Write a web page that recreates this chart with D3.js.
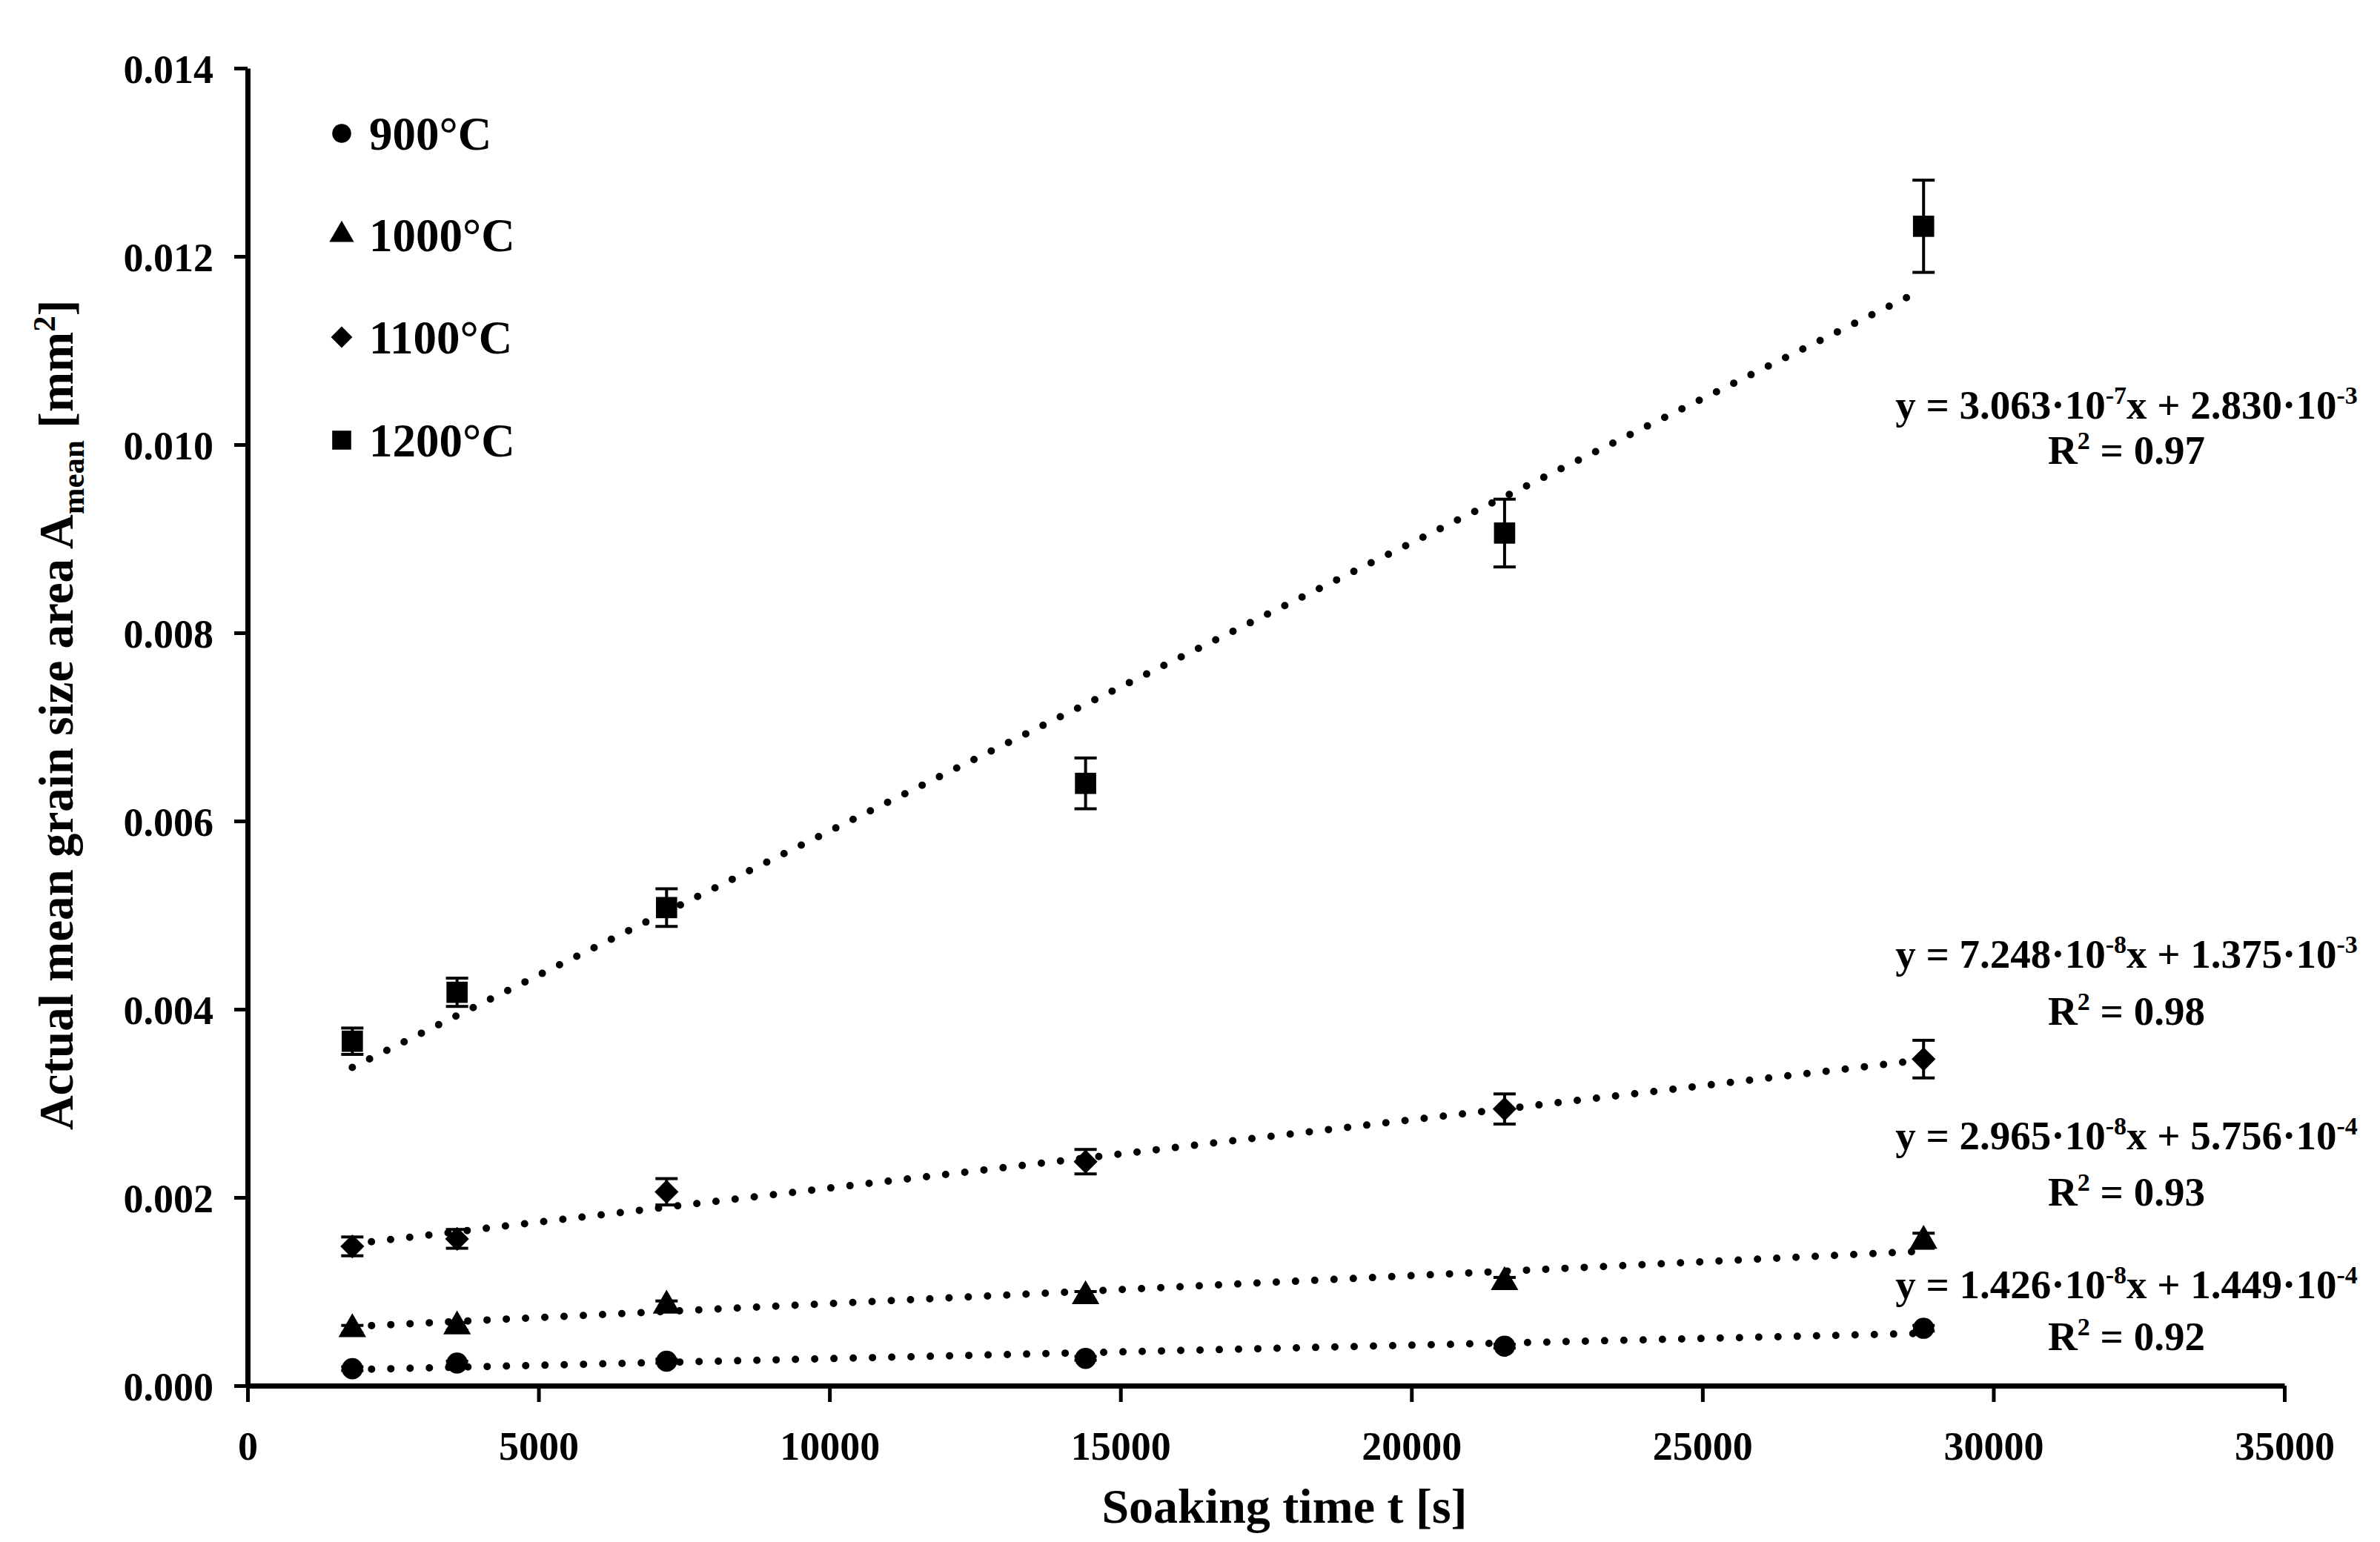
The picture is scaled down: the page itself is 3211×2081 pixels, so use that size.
<!DOCTYPE html>
<html><head><meta charset="utf-8">
<script src="https://cdnjs.cloudflare.com/ajax/libs/d3/7.8.5/d3.min.js"></script>
<style>body{margin:0;background:#fff}</style>
</head><body>
<svg id="c" width="3211" height="2081"></svg>
<script>
// ---- data ----
const times = [1800, 3600, 7200, 14400, 21600, 28800];
const seriesNames = ["900°C", "1000°C", "1100°C", "1200°C"];
const mean900  = [0.00018, 0.00024, 0.00026, 0.00029, 0.00042, 0.00061];
const err900   = [0.00002, 0.00002, 0.00002, 0.00002, 0.00002, 0.00003];
const mean1000 = [0.00060, 0.00063, 0.00085, 0.00095, 0.00110, 0.00154];
const err1000  = [0.00004, 0.00004, 0.00005, 0.00005, 0.00005, 0.00008];
const mean1100 = [0.00148, 0.00156, 0.00206, 0.00238, 0.00294, 0.00347];
const err1100  = [0.00010, 0.00010, 0.00014, 0.00013, 0.00016, 0.00020];
const mean1200 = [0.00366, 0.00418, 0.00508, 0.00640, 0.00906, 0.01232];
const err1200  = [0.00014, 0.00015, 0.00020, 0.00027, 0.00036, 0.00049];
const slopes     = [1.426e-8, 2.965e-8, 7.248e-8, 3.063e-7];
const intercepts = [1.449e-4, 5.756e-4, 1.375e-3, 2.830e-3];
const eqSlopeText = ["1.426", "2.965", "7.248", "3.063"];
const eqSlopeExp  = ["-8", "-8", "-8", "-7"];
const eqIntText   = ["1.449", "5.756", "1.375", "2.830"];
const eqIntExp    = ["-4", "-4", "-3", "-3"];
const r2Text      = ["0.92", "0.93", "0.98", "0.97"];
const xTicks = [0, 5000, 10000, 15000, 20000, 25000, 30000, 35000];
const yTicks = [0.000, 0.002, 0.004, 0.006, 0.008, 0.010, 0.012, 0.014];

const means = [mean900, mean1000, mean1100, mean1200];
const errs = [err900, err1000, err1100, err1200];

// ---- layout ----
const W = 3211, H = 2081;
const m = {left: 334, top: 92, right: 129, bottom: 211};
const svg = d3.select("#c");
const FONT = "'Liberation Serif', 'Times New Roman', serif";
const x = d3.scaleLinear().domain([0, 35000]).range([m.left, W - m.right]);
const y = d3.scaleLinear().domain([0, 0.014]).range([H - m.bottom, m.top]);

// axes
const xAxis = svg.append("g").attr("transform", `translate(0,${H - m.bottom})`)
  .call(d3.axisBottom(x).tickValues(xTicks).tickFormat(d3.format("d")).tickSizeInner(22).tickSizeOuter(0).tickPadding(40));
const yAxis = svg.append("g").attr("transform", `translate(${m.left},0)`)
  .call(d3.axisLeft(y).tickValues(yTicks).tickFormat(d3.format(".3f")).tickSizeInner(18).tickSizeOuter(0).tickPadding(28));
[xAxis, yAxis].forEach(g => {
  g.select(".domain").attr("stroke", "#000").attr("stroke-width", 7);
  g.selectAll(".tick line").attr("stroke", "#000").attr("stroke-width", 5);
  g.selectAll(".tick text").attr("font-family", FONT).attr("font-size", 54).attr("font-weight", "bold").attr("fill", "#000");
});
yAxis.selectAll(".tick text").attr("dy", "0.36em");

// symbols
const symTypes = [d3.symbolCircle, d3.symbolTriangle, d3.symbolSquare, d3.symbolSquare];
const symSizes = [640, 600, 520, 820];
const symRot = [0, 0, 45, 0];
function sym(i, scale) {
  return d3.symbol().type(symTypes[i]).size(symSizes[i] * (scale || 1))();
}

const plot = svg.append("g");

// trend lines (dotted)
seriesNames.forEach((name, i) => {
  const x0 = times[0], x1 = times[times.length - 1];
  plot.append("line")
    .attr("x1", x(x0)).attr("y1", y(slopes[i] * x0 + intercepts[i]))
    .attr("x2", x(x1)).attr("y2", y(slopes[i] * x1 + intercepts[i]))
    .attr("stroke", "#000").attr("stroke-width", 10)
    .attr("stroke-linecap", "round").attr("stroke-dasharray", "0 26");
});

// error bars and markers
seriesNames.forEach((name, i) => {
  const g = plot.append("g");
  times.forEach((t, j) => {
    const v = means[i][j], e = errs[i][j];
    const cx = x(t);
    g.append("line").attr("x1", cx).attr("x2", cx).attr("y1", y(v - e)).attr("y2", y(v + e))
      .attr("stroke", "#000").attr("stroke-width", 4);
    [v - e, v + e].forEach(val => {
      g.append("line").attr("x1", cx - 15).attr("x2", cx + 15).attr("y1", y(val)).attr("y2", y(val))
        .attr("stroke", "#000").attr("stroke-width", 4);
    });
    g.append("path").attr("d", sym(i))
      .attr("transform", `translate(${cx},${y(v)}) rotate(${symRot[i]})`)
      .attr("fill", "#000");
  });
});

// legend
const legY = [180, 317, 455, 594];
seriesNames.forEach((name, i) => {
  svg.append("path").attr("d", sym(i, 0.8))
    .attr("transform", `translate(461,${legY[i]}) rotate(${symRot[i]})`).attr("fill", "#000");
  svg.append("text").attr("x", 498).attr("y", legY[i]).attr("dy", "0.35em")
    .attr("font-family", FONT).attr("font-size", 63).attr("font-weight", "bold").text(name);
});

// equations
const eqX = 2869;
const eqY = [1752, 1551, 1306, 565];
const rY  = [1822, 1627, 1383, 626];
seriesNames.forEach((name, i) => {
  const t = svg.append("text").attr("x", eqX).attr("y", eqY[i]).attr("text-anchor", "middle")
    .attr("font-family", FONT).attr("font-size", 55).attr("font-weight", "bold");
  t.append("tspan").text(`y = ${eqSlopeText[i]}·10`);
  t.append("tspan").attr("font-size", 34).attr("dy", -20).text(eqSlopeExp[i]);
  t.append("tspan").attr("dy", 20).text(`x + ${eqIntText[i]}·10`);
  t.append("tspan").attr("font-size", 34).attr("dy", -20).text(eqIntExp[i]);
  const r = svg.append("text").attr("x", eqX).attr("y", rY[i]).attr("text-anchor", "middle")
    .attr("font-family", FONT).attr("font-size", 55).attr("font-weight", "bold");
  r.append("tspan").text("R");
  r.append("tspan").attr("font-size", 34).attr("dy", -20).text("2");
  r.append("tspan").attr("dy", 20).text(` = ${r2Text[i]}`);
});

// axis titles
svg.append("text").attr("x", 1733).attr("y", 2055).attr("text-anchor", "middle")
  .attr("font-family", FONT).attr("font-size", 66).attr("font-weight", "bold").text("Soaking time t [s]");
const yt = svg.append("text").attr("transform", `translate(98,965) rotate(-90)`).attr("text-anchor", "middle")
  .attr("font-family", FONT).attr("font-size", 65).attr("font-weight", "bold");
yt.append("tspan").text("Actual mean grain size area A");
yt.append("tspan").attr("font-size", 43).attr("dy", 15).text("mean");
yt.append("tspan").attr("dy", -15).text(" [mm");
yt.append("tspan").attr("font-size", 43).attr("dy", -24).text("2");
yt.append("tspan").attr("dy", 24).text("]");
</script>
</body></html>
